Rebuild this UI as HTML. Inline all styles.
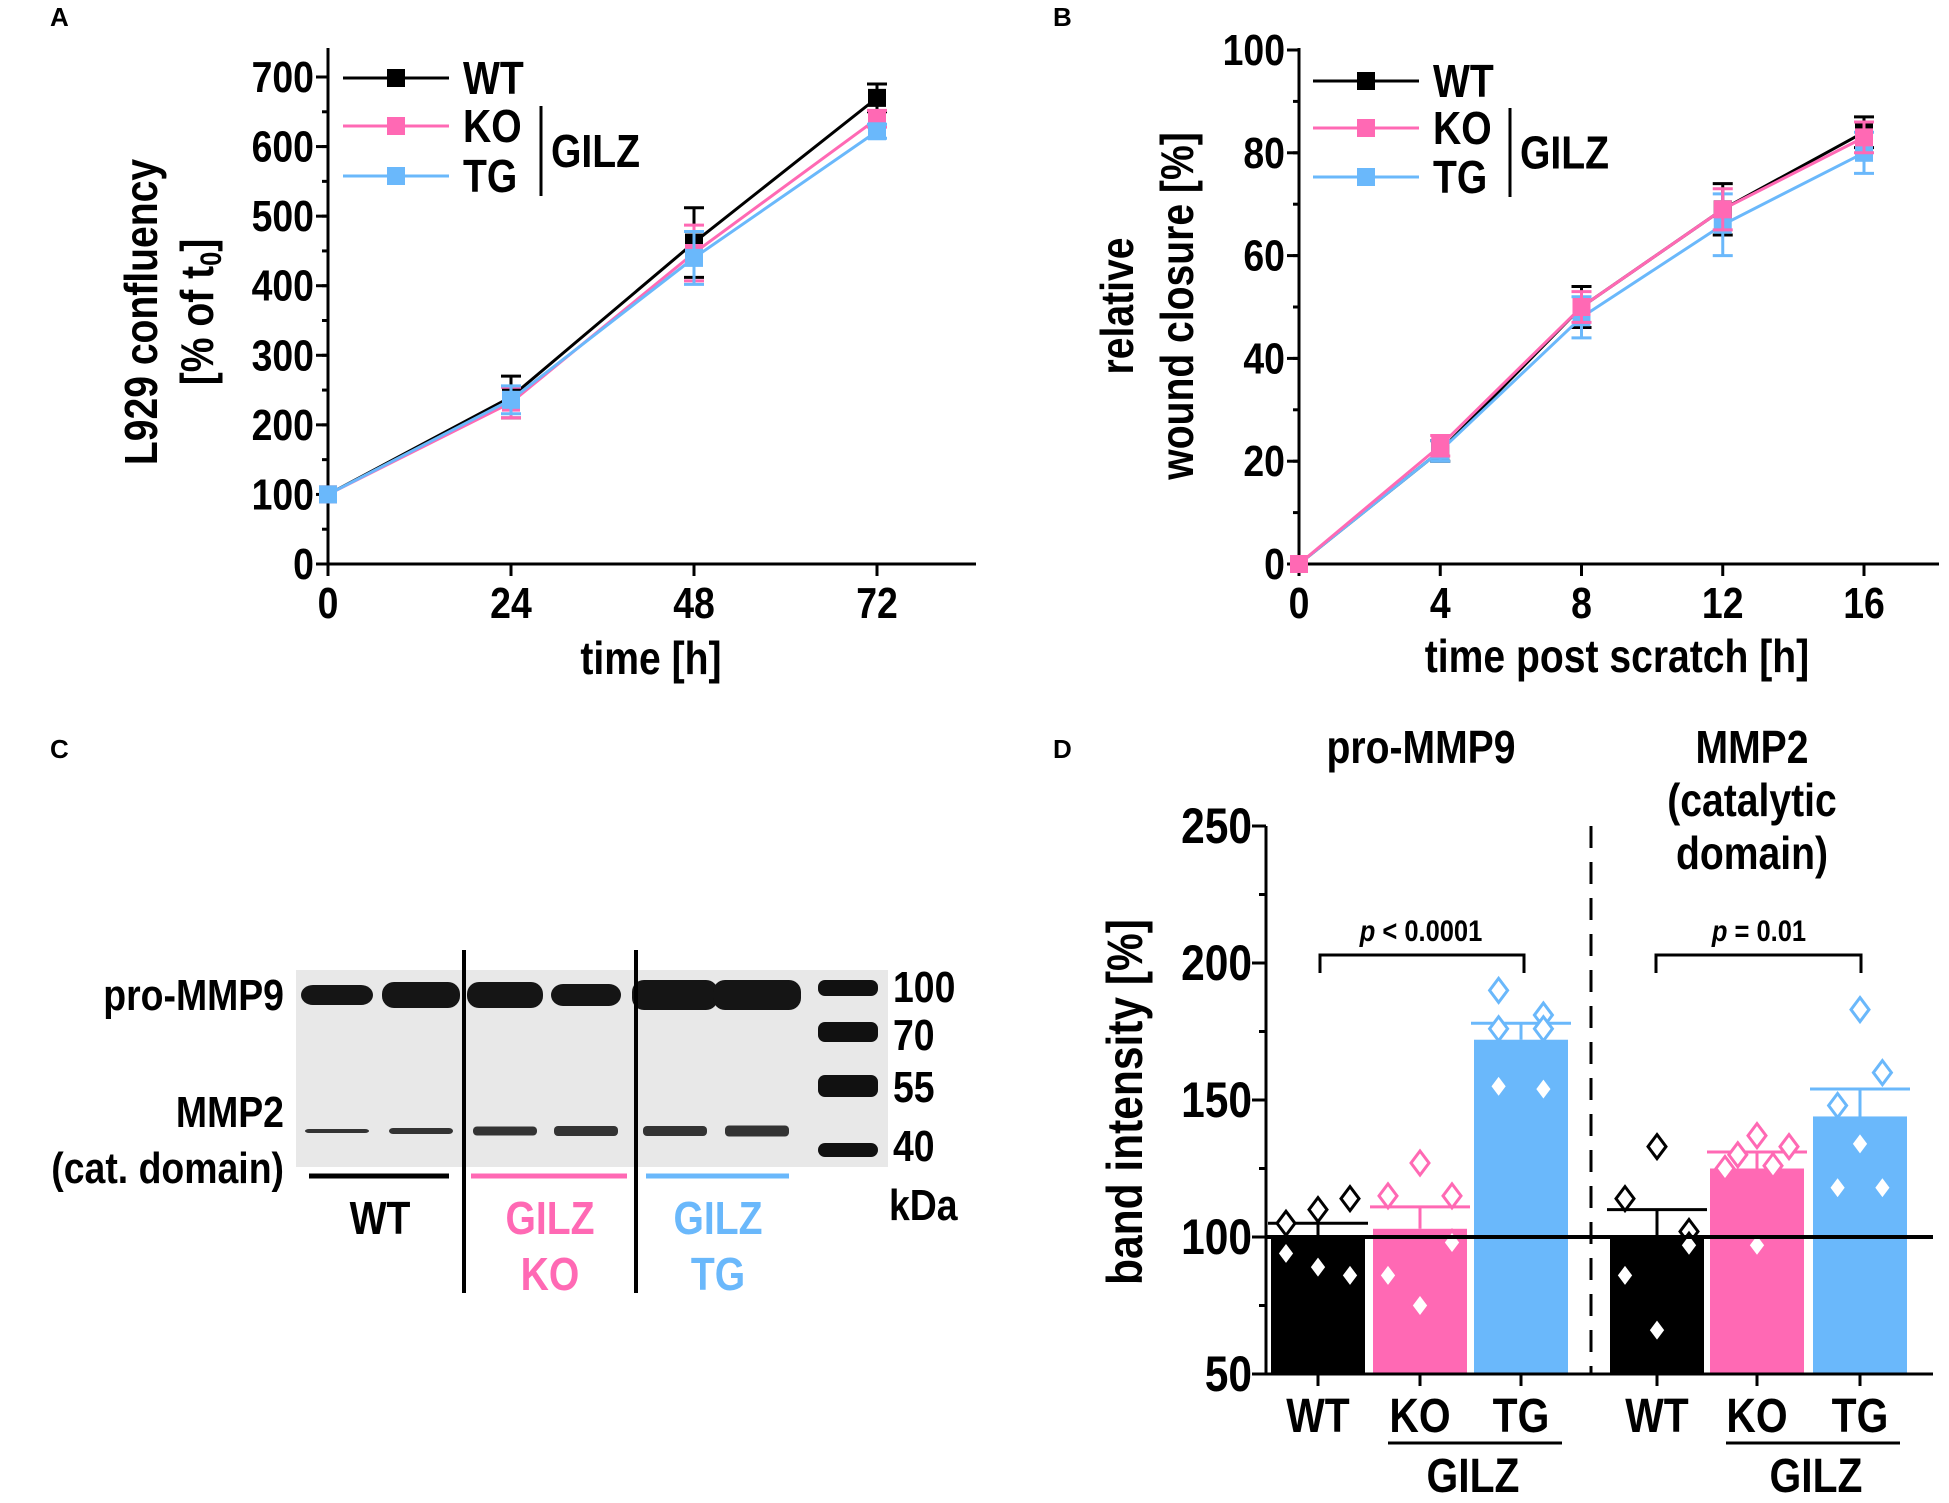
<!DOCTYPE html>
<html><head><meta charset="utf-8"><style>
html,body{margin:0;padding:0;background:#fff}
svg{display:block}
text{font-family:"Liberation Sans Narrow","Liberation Sans",sans-serif;font-weight:bold;fill:#000}
</style></head><body>
<svg id="fig" width="1949" height="1503" viewBox="0 0 1949 1503" xmlns="http://www.w3.org/2000/svg">
<g style="font-size:26px">
<text x="50" y="26">A</text>
<text x="1053" y="26">B</text>
<text x="50" y="758">C</text>
<text x="1053" y="758">D</text>
</g>
<g id="pa"></g>
<g id="pb"></g>
<g id="pc"></g>
<g id="pd"></g>
</svg>
<script>
// ---- Panel A data ----
const aTimes = [0, 24, 48, 72];
const aTicksY = [0, 100, 200, 300, 400, 500, 600, 700];
const aWT = [100, 240, 462, 670];
const aWTerr = [0, 30, 50, 20];
const aKO = [100, 232, 447, 640];
const aKOerr = [0, 22, 40, 12];
const aTG = [100, 236, 440, 622];
const aTGerr = [0, 20, 38, 10];
// ---- Panel B data ----
const bTimes = [0, 4, 8, 12, 16];
const bTicksY = [0, 20, 40, 60, 80, 100];
const bWT = [0, 22, 50, 69, 84];
const bWTerr = [0, 2, 4, 5, 3];
const bKO = [0, 23, 50, 69, 83];
const bKOerr = [0, 2, 3, 4, 3];
const bTG = [0, 22, 48, 66, 80];
const bTGerr = [0, 2, 4, 6, 4];
// ---- Panel D data ----
const dCategories = ["WT", "KO", "TG", "WT", "KO", "TG"];
const dMeans = [100, 103, 172, 100, 125, 144];
const dSEM = [5, 8, 6, 10, 6, 10];
const dTicksY = [50, 100, 150, 200, 250];
const dPoints = [
  [105, 110, 114, 94, 89, 86],
  [127, 115, 115, 86, 75, 98],
  [190, 181, 176, 176, 155, 154],
  [133, 114, 102, 97, 86, 66],
  [137, 130, 133, 125, 126, 97],
  [183, 160, 148, 134, 118, 118]
];
const dSlots = [
  [-1, 0, 1, -1, 0, 1],
  [0, -1, 1, -1, 0, 1],
  [-0.7, 0.7, -0.7, 0.7, -0.7, 0.7],
  [0, -1, 1, 1, -1, 0],
  [0, -0.6, 1, -1, 0.5, 0],
  [0, 0.7, -0.7, 0, -0.7, 0.7]
];

const NS = "http://www.w3.org/2000/svg";
const BLACK = "#000", PINK = "#ff69b4", BLUE = "#6ab8fb";
function mk(parent, tag, attrs, txt) {
  const e = document.createElementNS(NS, tag);
  for (const k in attrs) e.setAttribute(k, attrs[k]);
  if (txt !== undefined) e.textContent = txt;
  parent.appendChild(e);
  return e;
}

function lineChart(g, cfg) {
  const sx = v => cfg.x0 + (v - cfg.xmin) / (cfg.xmax - cfg.xmin) * (cfg.x1 - cfg.x0);
  const sy = v => cfg.y0 - (v - cfg.ymin) / (cfg.ymax - cfg.ymin) * (cfg.y0 - cfg.y1);
  let e = mk(g, "line", {x1: cfg.x0, y1: cfg.y0, x2: cfg.xend, y2: cfg.y0, stroke: "#000", "stroke-width": 3});
  
  
  e = mk(g, "line", {x1: cfg.x0, y1: cfg.y0 + 10, x2: cfg.x0, y2: cfg.ytop, stroke: "#000", "stroke-width": 3});
  
  
  for (let v = cfg.ymin; v <= cfg.ymax + 1e-9; v += cfg.minor) {
    e = mk(g, "line", {x1: cfg.x0 - 6, y1: sy(v), x2: cfg.x0, y2: sy(v), stroke: "#000", "stroke-width": 3});
    
    
  }
  cfg.yticks.forEach(v => {
    e = mk(g, "line", {x1: cfg.x0 - 12, y1: sy(v), x2: cfg.x0, y2: sy(v), stroke: "#000", "stroke-width": 3});
    
    
    e = mk(g, "text", {x: cfg.x0 - 14, y: sy(v) + 15, "text-anchor": "end", "font-size": 44}, String(v));
    
    
  });
  cfg.xticks.forEach(v => {
    e = mk(g, "line", {x1: sx(v), y1: cfg.y0, x2: sx(v), y2: cfg.y0 + 12, stroke: "#000", "stroke-width": 3});
    
    
    e = mk(g, "text", {x: sx(v), y: cfg.y0 + 54, "text-anchor": "middle", "font-size": 44}, String(v));
    
    
  });
  cfg.series.forEach(s => {
    const sg = mk(g, "g", {});
    
    
    const pts = cfg.xticks.map((t, i) => sx(t) + "," + sy(s.vals[i])).join(" ");
    e = mk(sg, "polyline", {points: pts, fill: "none", stroke: s.color, "stroke-width": 3});
    
    
    cfg.xticks.forEach((t, i) => {
      const x = sx(t), y = sy(s.vals[i]), er = s.err[i];
      if (er > 0) {
        e = mk(sg, "path", {d: `M${x},${sy(s.vals[i] + er)}V${sy(s.vals[i] - er)}M${x - 10},${sy(s.vals[i] + er)}h20M${x - 10},${sy(s.vals[i] - er)}h20`, stroke: s.color, "stroke-width": 3, fill: "none"});
        
        
      }
      e = mk(sg, "rect", {x: x - 9, y: y - 9, width: 18, height: 18, fill: s.color});
      
      
    });
  });
  const lg = mk(g, "g", {});
  
  
  cfg.series.forEach(s => {
    const y = cfg.legY[s.name];
    e = mk(lg, "line", {x1: cfg.legX, y1: y, x2: cfg.legX + 106, y2: y, stroke: s.color, "stroke-width": 3});
    
    
    e = mk(lg, "rect", {x: cfg.legX + 44, y: y - 9, width: 18, height: 18, fill: s.color});
    
    
    e = mk(lg, "text", {x: cfg.legX + 120, y: y + 16, "font-size": 46}, s.name);
    
    
  });
  e = mk(lg, "line", {x1: cfg.barX, y1: cfg.legY.KO - 20, x2: cfg.barX, y2: cfg.legY.TG + 20, stroke: "#000", "stroke-width": 3});
  
  
  e = mk(lg, "text", {x: cfg.barX + 10, y: (cfg.legY.KO + cfg.legY.TG) / 2 + 16, "font-size": 46}, "GILZ");
  
  
}

lineChart(document.getElementById("pa"), {
  x0: 328, x1: 877, xend: 976, xmin: 0, xmax: 72, y0: 564, y1: 77, ymin: 0, ymax: 700, ytop: 48, minor: 50,
  xticks: aTimes, yticks: aTicksY,
  series: [{name: "WT", color: BLACK, vals: aWT, err: aWTerr}, {name: "KO", color: PINK, vals: aKO, err: aKOerr}, {name: "TG", color: BLUE, vals: aTG, err: aTGerr}],
  legX: 343, legY: {WT: 78, KO: 126, TG: 176}, barX: 541
});
lineChart(document.getElementById("pb"), {
  x0: 1299, x1: 1864, xend: 1939, xmin: 0, xmax: 16, y0: 564, y1: 50, ymin: 0, ymax: 100, ytop: 48, minor: 10,
  xticks: bTimes, yticks: bTicksY,
  series: [{name: "WT", color: BLACK, vals: bWT, err: bWTerr}, {name: "TG", color: BLUE, vals: bTG, err: bTGerr}, {name: "KO", color: PINK, vals: bKO, err: bKOerr}],
  legX: 1313, legY: {WT: 81, KO: 128, TG: 177}, barX: 1510
});

const pa = document.getElementById("pa"), pb = document.getElementById("pb");
let t;
t = mk(pa, "text", {x: 0, y: 0, "font-size": 46, "text-anchor": "middle", transform: "translate(157,312) rotate(-90) scale(0.85,1)"}, "L929 confluency");
 
t = mk(pa, "text", {x: 0, y: 0, "font-size": 46, "text-anchor": "middle", transform: "translate(213,312) rotate(-90) scale(0.85,1)"});
 
t.innerHTML = '[% of t<tspan font-size="30" dy="8">0</tspan><tspan dy="-8">]</tspan>';
t = mk(pa, "text", {x: 651, y: 674, "font-size": 46, "text-anchor": "middle"}, "time [h]");
 
t = mk(pb, "text", {x: 0, y: 0, "font-size": 46, "text-anchor": "middle", transform: "translate(1133,306) rotate(-90) scale(0.85,1)"}, "relative");
 
t = mk(pb, "text", {x: 0, y: 0, "font-size": 46, "text-anchor": "middle", transform: "translate(1193,306) rotate(-90) scale(0.85,1)"}, "wound closure [%]");
 
t = mk(pb, "text", {x: 1617, y: 672, "font-size": 46, "text-anchor": "middle"}, "time post scratch [h]");
 

// ---- Panel C blot ----
const pc = document.getElementById("pc");
let e;
e = mk(pc, "rect", {x: 296, y: 970, width: 592, height: 197, fill: "#e8e8e8"});
 
const laneX = [337, 421, 505, 586, 675, 757];
const mmp9W = [72, 78, 76, 70, 86, 88];
const mmp9H = [20, 26, 26, 22, 30, 30];
const mmp2H = [4, 6, 9, 10, 10, 11];
laneX.forEach((x, i) => {
  e = mk(pc, "rect", {x: x - mmp9W[i] / 2, y: 995 - mmp9H[i] / 2, width: mmp9W[i], height: mmp9H[i], rx: 12, fill: "#151515"});
   
  e = mk(pc, "rect", {x: x - 32, y: 1131 - mmp2H[i] / 2, width: 64, height: mmp2H[i], rx: 4, fill: "#333"});
   
});
[[988, 16], [1032, 20], [1086, 22], [1150, 14]].forEach(b => {
  e = mk(pc, "rect", {x: 818, y: b[0] - b[1] / 2, width: 60, height: b[1], rx: 7, fill: "#111"});
   
});
[464, 636].forEach(x => {
  e = mk(pc, "line", {x1: x, y1: 950, x2: x, y2: 1293, stroke: "#000", "stroke-width": 4});
   
});
[["100", 1002], ["70", 1050], ["55", 1102], ["40", 1161]].forEach(m => {
  e = mk(pc, "text", {x: 893, y: m[1], "font-size": 44}, m[0]);
   
});
e = mk(pc, "text", {x: 889, y: 1220, "font-size": 44}, "kDa");
 
[["pro-MMP9", 1010], ["MMP2", 1127], ["(cat. domain)", 1183]].forEach(m => {
  e = mk(pc, "text", {x: 284, y: m[1], "font-size": 44, "text-anchor": "end"}, m[0]);
   
});
[[309, 449, BLACK], [471, 627, PINK], [646, 789, BLUE]].forEach(u => {
  e = mk(pc, "line", {x1: u[0], y1: 1176, x2: u[1], y2: 1176, stroke: u[2], "stroke-width": 5});
   
});
[["WT", 380, 1234, BLACK], ["GILZ", 550, 1234, PINK], ["KO", 550, 1290, PINK], ["GILZ", 718, 1234, BLUE], ["TG", 718, 1290, BLUE]].forEach(m => {
  e = mk(pc, "text", {x: m[1], y: m[2], "font-size": 46, "text-anchor": "middle", style: "fill:" + m[3]}, m[0]);
   
});

// ---- Panel D ----
const pd = document.getElementById("pd");
const dX0 = 1266, dXend = 1933, dY0 = 1374, dY1 = 826, dMin = 50, dMax = 250;
const dCenters = [1318, 1420, 1521, 1657, 1757, 1860];
const dColors = [BLACK, PINK, BLUE, BLACK, PINK, BLUE];
const dy = v => dY0 - (v - dMin) / (dMax - dMin) * (dY0 - dY1);
const barW = 94;
dMeans.forEach((m, i) => {
  const c = dCenters[i];
  e = mk(pd, "rect", {x: c - barW / 2, y: dy(m), width: barW, height: dY0 - dy(m), fill: dColors[i]});
  
  
  e = mk(pd, "path", {d: `M${c},${dy(m)}V${dy(m + dSEM[i])}M${c - 50},${dy(m + dSEM[i])}h100`, stroke: dColors[i], "stroke-width": 3, fill: "none"});
   
  dPoints[i].forEach((v, j) => {
    const px = c + dSlots[i][j] * 32, py = dy(v), r = 12;
    e = mk(pd, "path", {d: `M${px},${py - r}L${px + r * 0.75},${py}L${px},${py + r}L${px - r * 0.75},${py}Z`, fill: "#fff", stroke: dColors[i], "stroke-width": 3});
     
  });
});
e = mk(pd, "line", {x1: dX0, y1: dy(100), x2: dXend, y2: dy(100), stroke: "#000", "stroke-width": 4});
 
e = mk(pd, "line", {x1: dX0, y1: dY0, x2: dXend, y2: dY0, stroke: "#000", "stroke-width": 3});
 
e = mk(pd, "line", {x1: dX0, y1: dY0, x2: dX0, y2: dY1, stroke: "#000", "stroke-width": 3});
 
for (let v = dMin; v <= dMax; v += 25) {
  e = mk(pd, "line", {x1: dX0 - 7, y1: dy(v), x2: dX0, y2: dy(v), stroke: "#000", "stroke-width": 3});
   
}
dTicksY.forEach(v => {
  e = mk(pd, "line", {x1: dX0 - 14, y1: dy(v), x2: dX0, y2: dy(v), stroke: "#000", "stroke-width": 3});
   
  e = mk(pd, "text", {x: dX0 - 14, y: dy(v) + 17, "font-size": 50, "text-anchor": "end"}, String(v));
   
});
dCenters.forEach((c, i) => {
  e = mk(pd, "line", {x1: c, y1: dY0, x2: c, y2: dY0 + 12, stroke: "#000", "stroke-width": 3});
   
  e = mk(pd, "text", {x: c, y: dY0 + 58, "font-size": 48, "text-anchor": "middle"}, dCategories[i]);
   
});
[[1388, 1562, 1473], [1726, 1900, 1816]].forEach(u => {
  e = mk(pd, "line", {x1: u[0], y1: 1443, x2: u[1], y2: 1443, stroke: "#000", "stroke-width": 3});
   
  e = mk(pd, "text", {x: u[2], y: 1492, "font-size": 48, "text-anchor": "middle"}, "GILZ");
   
});
e = mk(pd, "line", {x1: 1591, y1: 826, x2: 1591, y2: 1374, stroke: "#000", "stroke-width": 3, "stroke-dasharray": "22,14"});
 
[[1320, 1524, 1421, "< 0.0001"], [1656, 1861, 1759, "= 0.01"]].forEach(b => {
  e = mk(pd, "path", {d: `M${b[0]},${973}V${955}H${b[1]}V${973}`, stroke: "#000", "stroke-width": 3, fill: "none"});
   
  e = mk(pd, "text", {x: b[2], y: 941, "font-size": 30, "text-anchor": "middle"});
   
  e.innerHTML = '<tspan font-style="italic">p</tspan> ' + b[3].replace('<', '&lt;');
});
[["pro-MMP9", 1421, 763], ["MMP2", 1752, 763], ["(catalytic", 1752, 816], ["domain)", 1752, 869]].forEach(m => {
  e = mk(pd, "text", {x: m[1], y: m[2], "font-size": 46, "text-anchor": "middle"}, m[0]);
   
});
e = mk(pd, "text", {x: 0, y: 0, "font-size": 50, "text-anchor": "middle", transform: "translate(1142,1102) rotate(-90) scale(0.85,1)"}, "band intensity [%]");
 

// condense horizontal text (reference uses a narrow bold face)
document.querySelectorAll("#fig text").forEach(tx => {
  if (tx.getAttribute("transform")) return;
  const fs = parseFloat(tx.getAttribute("font-size") || "26");
  if (fs < 30) return;
  const x = parseFloat(tx.getAttribute("x"));
  tx.setAttribute("transform", `translate(${x},0) scale(0.85,1) translate(${-x},0)`);
});
</script>
</body></html>
